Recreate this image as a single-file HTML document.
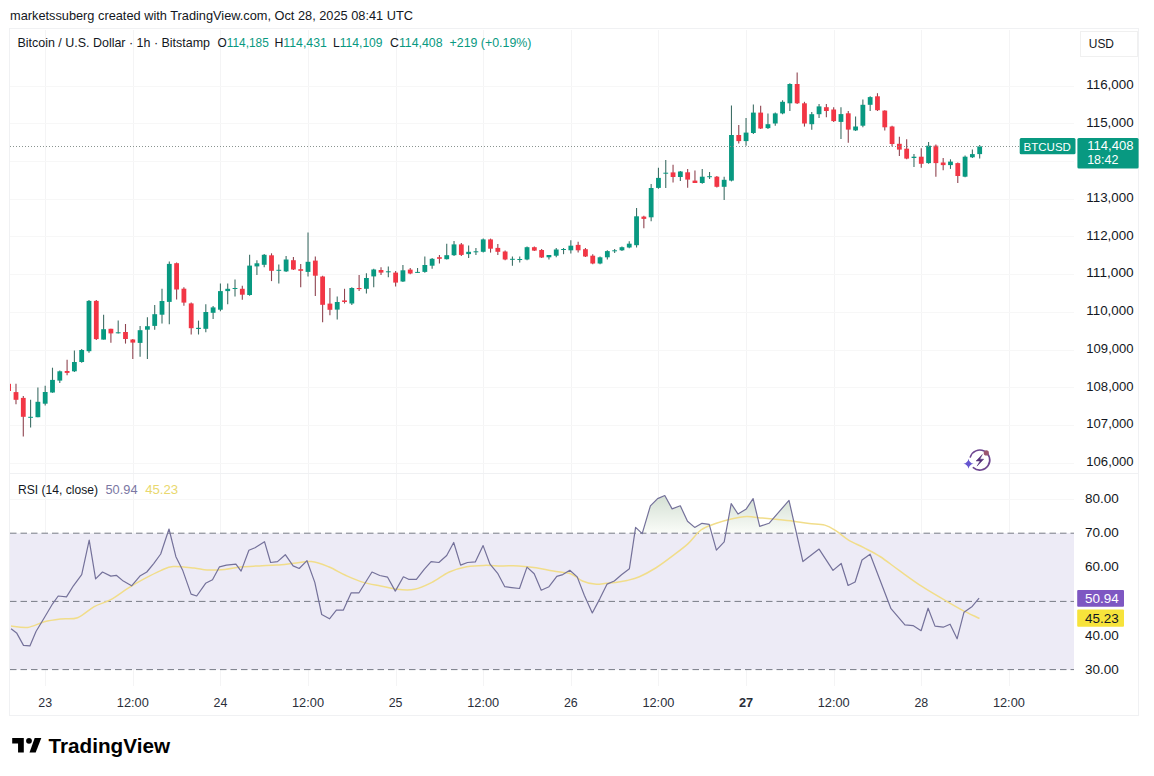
<!DOCTYPE html>
<html><head><meta charset="utf-8"><style>
html,body{margin:0;padding:0;background:#fff;}
body{width:1154px;height:776px;overflow:hidden;}
svg{display:block;font-family:"Liberation Sans",sans-serif;}
</style></head><body>
<svg width="1154" height="776" viewBox="0 0 1154 776">
<rect width="1154" height="776" fill="#ffffff"/>
<line x1="45.5" y1="30" x2="45.5" y2="686" stroke="#f4f4f5" stroke-width="1"/>
<line x1="133.5" y1="30" x2="133.5" y2="686" stroke="#f4f4f5" stroke-width="1"/>
<line x1="220.5" y1="30" x2="220.5" y2="686" stroke="#f4f4f5" stroke-width="1"/>
<line x1="308.5" y1="30" x2="308.5" y2="686" stroke="#f4f4f5" stroke-width="1"/>
<line x1="396.5" y1="30" x2="396.5" y2="686" stroke="#f4f4f5" stroke-width="1"/>
<line x1="483.5" y1="30" x2="483.5" y2="686" stroke="#f4f4f5" stroke-width="1"/>
<line x1="571.5" y1="30" x2="571.5" y2="686" stroke="#f4f4f5" stroke-width="1"/>
<line x1="658.5" y1="30" x2="658.5" y2="686" stroke="#f4f4f5" stroke-width="1"/>
<line x1="746.5" y1="30" x2="746.5" y2="686" stroke="#f4f4f5" stroke-width="1"/>
<line x1="834.5" y1="30" x2="834.5" y2="686" stroke="#f4f4f5" stroke-width="1"/>
<line x1="921.5" y1="30" x2="921.5" y2="686" stroke="#f4f4f5" stroke-width="1"/>
<line x1="1009.5" y1="30" x2="1009.5" y2="686" stroke="#f4f4f5" stroke-width="1"/>
<line x1="10" y1="463.5" x2="1074" y2="463.5" stroke="#f7f7f7" stroke-width="1"/>
<line x1="10" y1="425.5" x2="1074" y2="425.5" stroke="#f7f7f7" stroke-width="1"/>
<line x1="10" y1="387.5" x2="1074" y2="387.5" stroke="#f7f7f7" stroke-width="1"/>
<line x1="10" y1="350.5" x2="1074" y2="350.5" stroke="#f7f7f7" stroke-width="1"/>
<line x1="10" y1="312.5" x2="1074" y2="312.5" stroke="#f7f7f7" stroke-width="1"/>
<line x1="10" y1="274.5" x2="1074" y2="274.5" stroke="#f7f7f7" stroke-width="1"/>
<line x1="10" y1="236.5" x2="1074" y2="236.5" stroke="#f7f7f7" stroke-width="1"/>
<line x1="10" y1="199.5" x2="1074" y2="199.5" stroke="#f7f7f7" stroke-width="1"/>
<line x1="10" y1="161.5" x2="1074" y2="161.5" stroke="#f7f7f7" stroke-width="1"/>
<line x1="10" y1="123.5" x2="1074" y2="123.5" stroke="#f7f7f7" stroke-width="1"/>
<line x1="10" y1="86.5" x2="1074" y2="86.5" stroke="#f7f7f7" stroke-width="1"/>
<line x1="10" y1="636.5" x2="1074" y2="636.5" stroke="#f7f7f7" stroke-width="1"/>
<line x1="10" y1="567.5" x2="1074" y2="567.5" stroke="#f7f7f7" stroke-width="1"/>
<line x1="10" y1="499.5" x2="1074" y2="499.5" stroke="#f7f7f7" stroke-width="1"/>
<rect x="9.5" y="28.5" width="1129" height="687" fill="none" stroke="#f0f1f3" stroke-width="1"/>
<line x1="9" y1="473.5" x2="1139" y2="473.5" stroke="#f0f1f3" stroke-width="1"/>
<rect x="10" y="533.2" width="1064" height="136.4" fill="#edebf6"/>
<defs><linearGradient id="ob" x1="0" y1="495" x2="0" y2="534" gradientUnits="userSpaceOnUse"><stop offset="0" stop-color="#d3dfd3"/><stop offset="1" stop-color="#fbfdf9"/></linearGradient><clipPath id="cob"><rect x="0" y="0" width="1154" height="533.2"/></clipPath></defs>
<polygon points="11.1,533.2 11.1,628.7 16.6,632.9 23.5,645.4 29.9,645.9 36.0,631.5 44.3,617.7 52.6,603.8 58.2,596.0 66.5,596.9 73.4,585.8 81.7,574.7 89.2,540.1 95.6,578.9 102.5,572.0 110.8,576.1 116.3,575.3 123.3,581.1 131.6,585.8 139.9,576.1 146.8,572.0 153.7,563.6 160.7,554.0 169.0,529.0 175.9,556.7 182.8,570.6 191.1,594.1 196.7,596.0 205.6,583.3 212.5,579.8 219.5,566.8 226.4,565.1 235.9,564.2 241.1,571.1 248.9,550.3 255.0,547.7 264.5,541.7 270.6,562.5 277.5,561.6 285.3,554.7 293.1,565.9 299.2,568.5 307.0,560.7 314.8,582.4 321.7,614.5 329.5,618.8 336.4,610.1 343.4,610.1 351.2,592.8 359.0,592.8 372.0,572.0 379.8,575.5 387.6,577.2 395.3,591.1 403.4,576.8 408.6,579.3 416.4,579.3 424.2,569.4 431.1,561.6 438.9,562.5 446.7,555.5 453.7,542.5 460.6,565.1 467.5,562.5 475.3,561.9 483.1,545.6 490.0,564.2 497.9,573.7 504.8,586.7 511.7,587.6 519.5,588.5 527.0,567.1 534.2,573.7 541.2,590.2 549.0,586.7 556.8,576.3 562.8,574.6 569.8,570.3 577.2,576.9 584.4,595.5 592.3,613.0 599.9,598.6 607.1,584.1 614.3,581.0 621.5,574.8 629.4,568.7 635.6,527.4 642.2,533.6 650.4,505.8 657.6,498.6 664.8,495.5 672.1,508.9 680.3,505.8 687.5,521.2 694.7,527.4 702.0,523.3 709.2,524.3 716.4,550.1 724.2,541.9 731.2,503.7 738.0,514.0 746.3,508.9 753.1,498.6 759.7,526.4 769.0,523.3 789.0,500.4 802.9,561.6 819.1,549.1 833.0,570.4 841.2,563.5 848.1,585.5 855.1,582.0 862.0,560.0 870.1,554.2 891.0,608.7 904.9,624.9 913.0,625.6 921.1,630.7 928.1,608.2 935.0,626.1 943.2,627.2 950.1,624.2 957.1,638.8 964.0,612.2 972.2,606.4 979.1,598.2 979.1,533.2" fill="url(#ob)" clip-path="url(#cob)"/>
<line x1="10" y1="533.2" x2="1074" y2="533.2" stroke="#787b86" stroke-width="1" stroke-dasharray="6.5 4"/>
<line x1="10" y1="601.4" x2="1074" y2="601.4" stroke="#787b86" stroke-width="1" stroke-dasharray="6.5 4"/>
<line x1="10" y1="669.6" x2="1074" y2="669.6" stroke="#787b86" stroke-width="1" stroke-dasharray="6.5 4"/>
<path d="M11.0,626.0 C13.8,626.2 22.1,628.1 27.7,627.4 C33.2,626.7 38.8,623.2 44.3,621.8 C49.8,620.4 55.5,619.7 61.0,619.0 C66.5,618.3 72.1,619.8 77.6,617.7 C83.1,615.6 88.7,609.6 94.2,606.6 C99.7,603.6 105.3,602.6 110.8,599.6 C116.3,596.6 121.9,592.1 127.4,588.6 C132.9,585.1 138.4,581.9 144.0,578.9 C149.6,575.9 155.8,572.7 160.7,570.6 C165.6,568.5 167.7,566.9 173.3,566.5 C178.9,566.1 188.4,567.4 194.1,568.0 C199.8,568.6 202.2,569.8 207.3,570.0 C212.4,570.2 218.9,569.9 224.7,569.4 C230.5,568.9 236.2,567.4 242.0,566.8 C247.8,566.2 253.5,566.2 259.3,565.9 C265.1,565.6 270.9,565.5 276.7,565.1 C282.5,564.7 288.2,563.9 294.0,563.3 C299.8,562.7 305.5,561.0 311.3,561.6 C317.1,562.2 322.8,564.5 328.6,566.8 C334.4,569.1 340.2,572.9 346.0,575.5 C351.8,578.1 357.5,580.7 363.3,582.4 C369.1,584.1 374.9,584.8 380.6,585.9 C386.3,587.0 391.6,588.7 397.3,589.3 C403.0,589.9 408.9,590.4 414.7,589.3 C420.5,588.1 426.2,585.3 432.0,582.4 C437.8,579.5 443.5,574.6 449.3,572.0 C455.1,569.4 460.9,567.9 466.7,566.8 C472.5,565.7 478.2,565.5 484.0,565.4 C489.8,565.2 495.5,565.8 501.3,565.9 C507.1,566.0 512.8,565.6 518.6,565.9 C524.4,566.2 530.2,566.8 536.0,567.7 C541.8,568.6 547.5,570.1 553.3,571.1 C559.1,572.1 565.8,572.1 570.6,573.7 C575.5,575.4 578.4,579.3 582.4,581.0 C586.4,582.7 590.8,583.7 594.7,584.1 C598.6,584.5 602.6,583.6 606.0,583.3 C609.4,583.0 611.5,583.0 615.0,582.5 C618.5,582.0 622.9,581.5 627.0,580.5 C631.1,579.5 634.6,578.8 639.4,576.7 C644.2,574.6 650.3,571.4 655.7,568.0 C661.1,564.6 666.5,560.5 671.9,556.4 C677.3,552.3 683.3,548.0 688.1,543.6 C692.9,539.2 696.3,533.4 700.9,530.0 C705.5,526.6 710.5,525.4 715.6,523.5 C720.7,521.6 726.0,520.1 731.2,518.9 C736.4,517.7 741.6,516.6 746.8,516.5 C752.0,516.4 757.2,517.6 762.4,518.1 C767.6,518.6 772.8,519.1 778.0,519.6 C783.2,520.1 788.4,520.6 793.6,521.2 C798.8,521.9 804.0,522.9 809.2,523.5 C814.4,524.1 820.4,523.9 824.8,525.1 C829.2,526.3 831.8,528.1 835.7,530.6 C839.6,533.1 843.5,537.0 848.2,539.9 C852.9,542.8 858.5,544.9 863.8,547.7 C869.1,550.5 874.1,552.7 880.0,556.5 C885.9,560.3 892.1,565.4 899.1,570.4 C906.1,575.4 914.6,581.7 922.3,586.7 C930.0,591.7 938.9,596.8 945.5,600.6 C952.1,604.5 956.0,606.8 961.7,609.8 C967.4,612.8 976.5,617.0 979.5,618.5" fill="none" stroke="#f1dd8a" stroke-width="1.5" stroke-linejoin="round"/>
<polyline points="11.1,628.7 16.6,632.9 23.5,645.4 29.9,645.9 36.0,631.5 44.3,617.7 52.6,603.8 58.2,596.0 66.5,596.9 73.4,585.8 81.7,574.7 89.2,540.1 95.6,578.9 102.5,572.0 110.8,576.1 116.3,575.3 123.3,581.1 131.6,585.8 139.9,576.1 146.8,572.0 153.7,563.6 160.7,554.0 169.0,529.0 175.9,556.7 182.8,570.6 191.1,594.1 196.7,596.0 205.6,583.3 212.5,579.8 219.5,566.8 226.4,565.1 235.9,564.2 241.1,571.1 248.9,550.3 255.0,547.7 264.5,541.7 270.6,562.5 277.5,561.6 285.3,554.7 293.1,565.9 299.2,568.5 307.0,560.7 314.8,582.4 321.7,614.5 329.5,618.8 336.4,610.1 343.4,610.1 351.2,592.8 359.0,592.8 372.0,572.0 379.8,575.5 387.6,577.2 395.3,591.1 403.4,576.8 408.6,579.3 416.4,579.3 424.2,569.4 431.1,561.6 438.9,562.5 446.7,555.5 453.7,542.5 460.6,565.1 467.5,562.5 475.3,561.9 483.1,545.6 490.0,564.2 497.9,573.7 504.8,586.7 511.7,587.6 519.5,588.5 527.0,567.1 534.2,573.7 541.2,590.2 549.0,586.7 556.8,576.3 562.8,574.6 569.8,570.3 577.2,576.9 584.4,595.5 592.3,613.0 599.9,598.6 607.1,584.1 614.3,581.0 621.5,574.8 629.4,568.7 635.6,527.4 642.2,533.6 650.4,505.8 657.6,498.6 664.8,495.5 672.1,508.9 680.3,505.8 687.5,521.2 694.7,527.4 702.0,523.3 709.2,524.3 716.4,550.1 724.2,541.9 731.2,503.7 738.0,514.0 746.3,508.9 753.1,498.6 759.7,526.4 769.0,523.3 789.0,500.4 802.9,561.6 819.1,549.1 833.0,570.4 841.2,563.5 848.1,585.5 855.1,582.0 862.0,560.0 870.1,554.2 891.0,608.7 904.9,624.9 913.0,625.6 921.1,630.7 928.1,608.2 935.0,626.1 943.2,627.2 950.1,624.2 957.1,638.8 964.0,612.2 972.2,606.4 979.1,598.2" fill="none" stroke="#74719a" stroke-width="1.2" stroke-linejoin="round"/>
<line x1="10.5" y1="383.8" x2="10.5" y2="391" stroke="#F23645" stroke-width="1"/>
<line x1="15.99" y1="383.8" x2="15.99" y2="404.3" stroke="#8f4450" stroke-width="1.1"/>
<rect x="13.59" y="392.1" width="4.8" height="7.7" fill="#F23645"/>
<line x1="23.29" y1="396.0" x2="23.29" y2="436.5" stroke="#8f4450" stroke-width="1.1"/>
<rect x="20.89" y="397.9" width="4.8" height="18.9" fill="#F23645"/>
<line x1="30.59" y1="399.8" x2="30.59" y2="427.5" stroke="#3f6f66" stroke-width="1.1"/>
<rect x="28.19" y="416.8" width="4.8" height="1.0" fill="#089981"/>
<line x1="37.89" y1="387.6" x2="37.89" y2="417.2" stroke="#3f6f66" stroke-width="1.1"/>
<rect x="35.49" y="401.8" width="4.8" height="15.4" fill="#089981"/>
<line x1="45.19" y1="385.7" x2="45.19" y2="405.6" stroke="#3f6f66" stroke-width="1.1"/>
<rect x="42.79" y="392.0" width="4.8" height="11.7" fill="#089981"/>
<line x1="52.49" y1="367.7" x2="52.49" y2="392.8" stroke="#3f6f66" stroke-width="1.1"/>
<rect x="50.09" y="379.9" width="4.8" height="12.6" fill="#089981"/>
<line x1="59.79" y1="370.6" x2="59.79" y2="383.0" stroke="#3f6f66" stroke-width="1.1"/>
<rect x="57.39" y="371.3" width="4.8" height="9.3" fill="#089981"/>
<line x1="67.09" y1="359.7" x2="67.09" y2="375.2" stroke="#8f4450" stroke-width="1.1"/>
<rect x="64.69" y="371.0" width="4.8" height="1.9" fill="#F23645"/>
<line x1="74.39" y1="350.4" x2="74.39" y2="372.0" stroke="#3f6f66" stroke-width="1.1"/>
<rect x="71.99" y="362.0" width="4.8" height="9.3" fill="#089981"/>
<line x1="81.69" y1="348.9" x2="81.69" y2="362.8" stroke="#3f6f66" stroke-width="1.1"/>
<rect x="79.29" y="350.0" width="4.8" height="12.0" fill="#089981"/>
<line x1="88.99" y1="300.0" x2="88.99" y2="352.8" stroke="#3f6f66" stroke-width="1.1"/>
<rect x="86.59" y="300.9" width="4.8" height="50.3" fill="#089981"/>
<line x1="96.29" y1="300.0" x2="96.29" y2="340.0" stroke="#8f4450" stroke-width="1.1"/>
<rect x="93.89" y="300.9" width="4.8" height="38.2" fill="#F23645"/>
<line x1="103.60" y1="314.8" x2="103.60" y2="339.6" stroke="#3f6f66" stroke-width="1.1"/>
<rect x="101.20" y="329.2" width="4.8" height="10.4" fill="#089981"/>
<line x1="110.90" y1="328.8" x2="110.90" y2="342.7" stroke="#8f4450" stroke-width="1.1"/>
<rect x="108.50" y="328.8" width="4.8" height="4.6" fill="#F23645"/>
<line x1="118.20" y1="320.6" x2="118.20" y2="333.4" stroke="#3f6f66" stroke-width="1.1"/>
<rect x="115.80" y="332.3" width="4.8" height="1.0" fill="#089981"/>
<line x1="125.50" y1="324.0" x2="125.50" y2="343.6" stroke="#8f4450" stroke-width="1.1"/>
<rect x="123.10" y="332.0" width="4.8" height="7.0" fill="#F23645"/>
<line x1="132.80" y1="339.0" x2="132.80" y2="359.1" stroke="#8f4450" stroke-width="1.1"/>
<rect x="130.40" y="339.5" width="4.8" height="3.1" fill="#F23645"/>
<line x1="140.10" y1="325.9" x2="140.10" y2="356.8" stroke="#3f6f66" stroke-width="1.1"/>
<rect x="137.70" y="330.2" width="4.8" height="12.7" fill="#089981"/>
<line x1="147.40" y1="317.3" x2="147.40" y2="359.1" stroke="#3f6f66" stroke-width="1.1"/>
<rect x="145.00" y="326.2" width="4.8" height="3.5" fill="#089981"/>
<line x1="154.70" y1="305.0" x2="154.70" y2="329.7" stroke="#3f6f66" stroke-width="1.1"/>
<rect x="152.30" y="314.2" width="4.8" height="11.7" fill="#089981"/>
<line x1="162.00" y1="288.7" x2="162.00" y2="323.5" stroke="#3f6f66" stroke-width="1.1"/>
<rect x="159.60" y="301.0" width="4.8" height="13.7" fill="#089981"/>
<line x1="169.30" y1="261.6" x2="169.30" y2="324.3" stroke="#3f6f66" stroke-width="1.1"/>
<rect x="166.90" y="263.9" width="4.8" height="38.0" fill="#089981"/>
<line x1="176.60" y1="262.4" x2="176.60" y2="299.5" stroke="#8f4450" stroke-width="1.1"/>
<rect x="174.20" y="263.2" width="4.8" height="26.3" fill="#F23645"/>
<line x1="183.90" y1="287.2" x2="183.90" y2="305.7" stroke="#8f4450" stroke-width="1.1"/>
<rect x="181.50" y="288.7" width="4.8" height="13.9" fill="#F23645"/>
<line x1="191.20" y1="302.6" x2="191.20" y2="334.4" stroke="#8f4450" stroke-width="1.1"/>
<rect x="188.80" y="303.4" width="4.8" height="24.8" fill="#F23645"/>
<line x1="198.50" y1="320.6" x2="198.50" y2="334.5" stroke="#3f6f66" stroke-width="1.1"/>
<rect x="196.10" y="327.8" width="4.8" height="1.2" fill="#089981"/>
<line x1="205.81" y1="304.3" x2="205.81" y2="332.2" stroke="#3f6f66" stroke-width="1.1"/>
<rect x="203.41" y="312.0" width="4.8" height="16.8" fill="#089981"/>
<line x1="213.11" y1="305.9" x2="213.11" y2="319.0" stroke="#3f6f66" stroke-width="1.1"/>
<rect x="210.71" y="307.4" width="4.8" height="5.4" fill="#089981"/>
<line x1="220.41" y1="283.4" x2="220.41" y2="311.3" stroke="#3f6f66" stroke-width="1.1"/>
<rect x="218.01" y="291.1" width="4.8" height="18.6" fill="#089981"/>
<line x1="227.71" y1="283.4" x2="227.71" y2="304.3" stroke="#3f6f66" stroke-width="1.1"/>
<rect x="225.31" y="288.8" width="4.8" height="2.3" fill="#089981"/>
<line x1="235.01" y1="279.5" x2="235.01" y2="296.6" stroke="#3f6f66" stroke-width="1.1"/>
<rect x="232.61" y="288.0" width="4.8" height="1.0" fill="#089981"/>
<line x1="242.31" y1="285.7" x2="242.31" y2="299.7" stroke="#8f4450" stroke-width="1.1"/>
<rect x="239.91" y="288.8" width="4.8" height="5.9" fill="#F23645"/>
<line x1="249.61" y1="254.8" x2="249.61" y2="295.8" stroke="#3f6f66" stroke-width="1.1"/>
<rect x="247.21" y="265.6" width="4.8" height="29.4" fill="#089981"/>
<line x1="256.91" y1="260.2" x2="256.91" y2="274.9" stroke="#3f6f66" stroke-width="1.1"/>
<rect x="254.51" y="263.3" width="4.8" height="3.1" fill="#089981"/>
<line x1="264.21" y1="254.0" x2="264.21" y2="267.2" stroke="#3f6f66" stroke-width="1.1"/>
<rect x="261.81" y="254.8" width="4.8" height="10.0" fill="#089981"/>
<line x1="271.51" y1="253.3" x2="271.51" y2="281.1" stroke="#8f4450" stroke-width="1.1"/>
<rect x="269.11" y="255.3" width="4.8" height="15.5" fill="#F23645"/>
<line x1="278.81" y1="264.6" x2="278.81" y2="283.5" stroke="#3f6f66" stroke-width="1.1"/>
<rect x="276.41" y="269.8" width="4.8" height="1.0" fill="#089981"/>
<line x1="286.11" y1="255.9" x2="286.11" y2="271.9" stroke="#3f6f66" stroke-width="1.1"/>
<rect x="283.71" y="259.5" width="4.8" height="11.9" fill="#089981"/>
<line x1="293.41" y1="257.0" x2="293.41" y2="270.0" stroke="#8f4450" stroke-width="1.1"/>
<rect x="291.01" y="260.2" width="4.8" height="9.3" fill="#F23645"/>
<line x1="300.71" y1="264.1" x2="300.71" y2="287.3" stroke="#8f4450" stroke-width="1.1"/>
<rect x="298.31" y="269.2" width="4.8" height="1.6" fill="#F23645"/>
<line x1="308.02" y1="232.4" x2="308.02" y2="276.5" stroke="#3f6f66" stroke-width="1.1"/>
<rect x="305.62" y="261.8" width="4.8" height="10.1" fill="#089981"/>
<line x1="315.32" y1="256.4" x2="315.32" y2="295.9" stroke="#8f4450" stroke-width="1.1"/>
<rect x="312.92" y="260.6" width="4.8" height="15.1" fill="#F23645"/>
<line x1="322.62" y1="275.7" x2="322.62" y2="322.2" stroke="#8f4450" stroke-width="1.1"/>
<rect x="320.22" y="276.5" width="4.8" height="28.3" fill="#F23645"/>
<line x1="329.92" y1="288.1" x2="329.92" y2="315.2" stroke="#8f4450" stroke-width="1.1"/>
<rect x="327.52" y="303.6" width="4.8" height="6.2" fill="#F23645"/>
<line x1="337.22" y1="296.6" x2="337.22" y2="319.5" stroke="#3f6f66" stroke-width="1.1"/>
<rect x="334.82" y="302.0" width="4.8" height="7.6" fill="#089981"/>
<line x1="344.52" y1="288.8" x2="344.52" y2="303.5" stroke="#8f4450" stroke-width="1.1"/>
<rect x="342.12" y="300.4" width="4.8" height="1.6" fill="#F23645"/>
<line x1="351.82" y1="287.3" x2="351.82" y2="305.0" stroke="#3f6f66" stroke-width="1.1"/>
<rect x="349.42" y="288.0" width="4.8" height="15.5" fill="#089981"/>
<line x1="359.12" y1="274.9" x2="359.12" y2="291.1" stroke="#8f4450" stroke-width="1.1"/>
<rect x="356.72" y="288.0" width="4.8" height="1.1" fill="#F23645"/>
<line x1="366.42" y1="273.3" x2="366.42" y2="293.5" stroke="#3f6f66" stroke-width="1.1"/>
<rect x="364.02" y="278.0" width="4.8" height="10.8" fill="#089981"/>
<line x1="373.72" y1="268.7" x2="373.72" y2="287.3" stroke="#3f6f66" stroke-width="1.1"/>
<rect x="371.32" y="269.5" width="4.8" height="6.9" fill="#089981"/>
<line x1="381.02" y1="267.2" x2="381.02" y2="274.9" stroke="#8f4450" stroke-width="1.1"/>
<rect x="378.62" y="270.0" width="4.8" height="2.6" fill="#F23645"/>
<line x1="388.32" y1="266.4" x2="388.32" y2="277.2" stroke="#3f6f66" stroke-width="1.1"/>
<rect x="385.92" y="271.3" width="4.8" height="1.0" fill="#089981"/>
<line x1="395.62" y1="271.0" x2="395.62" y2="286.5" stroke="#8f4450" stroke-width="1.1"/>
<rect x="393.22" y="272.6" width="4.8" height="10.0" fill="#F23645"/>
<line x1="402.92" y1="265.0" x2="402.92" y2="282.0" stroke="#3f6f66" stroke-width="1.1"/>
<rect x="400.52" y="270.3" width="4.8" height="11.2" fill="#089981"/>
<line x1="410.23" y1="268.0" x2="410.23" y2="274.2" stroke="#8f4450" stroke-width="1.1"/>
<rect x="407.83" y="269.6" width="4.8" height="3.9" fill="#F23645"/>
<line x1="417.53" y1="268.0" x2="417.53" y2="272.7" stroke="#3f6f66" stroke-width="1.1"/>
<rect x="415.13" y="271.9" width="4.8" height="1.0" fill="#089981"/>
<line x1="424.83" y1="256.4" x2="424.83" y2="272.7" stroke="#3f6f66" stroke-width="1.1"/>
<rect x="422.43" y="265.0" width="4.8" height="6.9" fill="#089981"/>
<line x1="432.13" y1="258.0" x2="432.13" y2="268.8" stroke="#3f6f66" stroke-width="1.1"/>
<rect x="429.73" y="258.8" width="4.8" height="6.9" fill="#089981"/>
<line x1="439.43" y1="254.9" x2="439.43" y2="263.4" stroke="#8f4450" stroke-width="1.1"/>
<rect x="437.03" y="257.2" width="4.8" height="1.6" fill="#F23645"/>
<line x1="446.73" y1="243.7" x2="446.73" y2="259.5" stroke="#3f6f66" stroke-width="1.1"/>
<rect x="444.33" y="255.2" width="4.8" height="4.0" fill="#089981"/>
<line x1="454.03" y1="241.0" x2="454.03" y2="256.0" stroke="#3f6f66" stroke-width="1.1"/>
<rect x="451.63" y="244.4" width="4.8" height="10.8" fill="#089981"/>
<line x1="461.33" y1="243.0" x2="461.33" y2="256.0" stroke="#8f4450" stroke-width="1.1"/>
<rect x="458.93" y="244.4" width="4.8" height="10.5" fill="#F23645"/>
<line x1="468.63" y1="245.6" x2="468.63" y2="258.0" stroke="#3f6f66" stroke-width="1.1"/>
<rect x="466.23" y="251.8" width="4.8" height="2.3" fill="#089981"/>
<line x1="475.93" y1="248.0" x2="475.93" y2="254.9" stroke="#3f6f66" stroke-width="1.1"/>
<rect x="473.53" y="251.3" width="4.8" height="1.0" fill="#089981"/>
<line x1="483.23" y1="238.6" x2="483.23" y2="252.6" stroke="#3f6f66" stroke-width="1.1"/>
<rect x="480.83" y="239.4" width="4.8" height="12.4" fill="#089981"/>
<line x1="490.53" y1="238.6" x2="490.53" y2="252.6" stroke="#8f4450" stroke-width="1.1"/>
<rect x="488.13" y="239.4" width="4.8" height="9.3" fill="#F23645"/>
<line x1="497.83" y1="244.0" x2="497.83" y2="254.9" stroke="#8f4450" stroke-width="1.1"/>
<rect x="495.43" y="247.9" width="4.8" height="3.9" fill="#F23645"/>
<line x1="505.13" y1="250.6" x2="505.13" y2="260.3" stroke="#8f4450" stroke-width="1.1"/>
<rect x="502.73" y="251.5" width="4.8" height="8.0" fill="#F23645"/>
<line x1="512.43" y1="256.4" x2="512.43" y2="265.7" stroke="#3f6f66" stroke-width="1.1"/>
<rect x="510.03" y="258.8" width="4.8" height="1.0" fill="#089981"/>
<line x1="519.74" y1="256.4" x2="519.74" y2="262.6" stroke="#3f6f66" stroke-width="1.1"/>
<rect x="517.34" y="259.0" width="4.8" height="1.0" fill="#089981"/>
<line x1="527.04" y1="246.4" x2="527.04" y2="260.3" stroke="#3f6f66" stroke-width="1.1"/>
<rect x="524.64" y="247.2" width="4.8" height="12.3" fill="#089981"/>
<line x1="534.34" y1="246.4" x2="534.34" y2="251.0" stroke="#8f4450" stroke-width="1.1"/>
<rect x="531.94" y="247.2" width="4.8" height="3.4" fill="#F23645"/>
<line x1="541.64" y1="249.0" x2="541.64" y2="258.0" stroke="#8f4450" stroke-width="1.1"/>
<rect x="539.24" y="250.0" width="4.8" height="7.5" fill="#F23645"/>
<line x1="548.94" y1="255.0" x2="548.94" y2="259.6" stroke="#3f6f66" stroke-width="1.1"/>
<rect x="546.54" y="255.0" width="4.8" height="2.3" fill="#089981"/>
<line x1="556.24" y1="248.0" x2="556.24" y2="257.3" stroke="#3f6f66" stroke-width="1.1"/>
<rect x="553.84" y="249.5" width="4.8" height="6.2" fill="#089981"/>
<line x1="563.54" y1="248.0" x2="563.54" y2="254.2" stroke="#3f6f66" stroke-width="1.1"/>
<rect x="561.14" y="249.0" width="4.8" height="1.0" fill="#089981"/>
<line x1="570.84" y1="240.2" x2="570.84" y2="253.4" stroke="#3f6f66" stroke-width="1.1"/>
<rect x="568.44" y="245.7" width="4.8" height="4.6" fill="#089981"/>
<line x1="578.14" y1="241.8" x2="578.14" y2="252.6" stroke="#8f4450" stroke-width="1.1"/>
<rect x="575.74" y="244.9" width="4.8" height="5.4" fill="#F23645"/>
<line x1="585.44" y1="248.0" x2="585.44" y2="257.0" stroke="#8f4450" stroke-width="1.1"/>
<rect x="583.04" y="249.2" width="4.8" height="7.3" fill="#F23645"/>
<line x1="592.74" y1="254.2" x2="592.74" y2="264.2" stroke="#8f4450" stroke-width="1.1"/>
<rect x="590.34" y="255.7" width="4.8" height="7.8" fill="#F23645"/>
<line x1="600.04" y1="256.5" x2="600.04" y2="264.2" stroke="#3f6f66" stroke-width="1.1"/>
<rect x="597.64" y="257.3" width="4.8" height="6.2" fill="#089981"/>
<line x1="607.34" y1="250.3" x2="607.34" y2="259.6" stroke="#3f6f66" stroke-width="1.1"/>
<rect x="604.94" y="251.1" width="4.8" height="6.2" fill="#089981"/>
<line x1="614.64" y1="249.0" x2="614.64" y2="253.0" stroke="#3f6f66" stroke-width="1.1"/>
<rect x="612.24" y="250.3" width="4.8" height="1.0" fill="#089981"/>
<line x1="621.95" y1="246.5" x2="621.95" y2="251.0" stroke="#3f6f66" stroke-width="1.1"/>
<rect x="619.55" y="247.2" width="4.8" height="3.1" fill="#089981"/>
<line x1="629.25" y1="241.3" x2="629.25" y2="248.3" stroke="#3f6f66" stroke-width="1.1"/>
<rect x="626.85" y="243.7" width="4.8" height="3.8" fill="#089981"/>
<line x1="636.55" y1="208.0" x2="636.55" y2="247.5" stroke="#3f6f66" stroke-width="1.1"/>
<rect x="634.15" y="216.3" width="4.8" height="28.9" fill="#089981"/>
<line x1="643.85" y1="215.8" x2="643.85" y2="228.2" stroke="#8f4450" stroke-width="1.1"/>
<rect x="641.45" y="216.6" width="4.8" height="2.3" fill="#F23645"/>
<line x1="651.15" y1="184.0" x2="651.15" y2="221.2" stroke="#3f6f66" stroke-width="1.1"/>
<rect x="648.75" y="188.0" width="4.8" height="29.3" fill="#089981"/>
<line x1="658.45" y1="167.8" x2="658.45" y2="188.7" stroke="#3f6f66" stroke-width="1.1"/>
<rect x="656.05" y="177.9" width="4.8" height="10.0" fill="#089981"/>
<line x1="665.75" y1="160.0" x2="665.75" y2="187.9" stroke="#3f6f66" stroke-width="1.1"/>
<rect x="663.35" y="172.7" width="4.8" height="1.0" fill="#089981"/>
<line x1="673.05" y1="164.7" x2="673.05" y2="182.5" stroke="#8f4450" stroke-width="1.1"/>
<rect x="670.65" y="172.4" width="4.8" height="4.6" fill="#F23645"/>
<line x1="680.35" y1="170.9" x2="680.35" y2="181.0" stroke="#3f6f66" stroke-width="1.1"/>
<rect x="677.95" y="171.5" width="4.8" height="5.5" fill="#089981"/>
<line x1="687.65" y1="169.0" x2="687.65" y2="187.7" stroke="#8f4450" stroke-width="1.1"/>
<rect x="685.25" y="172.3" width="4.8" height="7.3" fill="#F23645"/>
<line x1="694.95" y1="170.6" x2="694.95" y2="183.0" stroke="#8f4450" stroke-width="1.1"/>
<rect x="692.55" y="180.6" width="4.8" height="2.4" fill="#F23645"/>
<line x1="702.25" y1="169.0" x2="702.25" y2="183.7" stroke="#3f6f66" stroke-width="1.1"/>
<rect x="699.85" y="176.7" width="4.8" height="6.3" fill="#089981"/>
<line x1="709.55" y1="172.1" x2="709.55" y2="179.0" stroke="#3f6f66" stroke-width="1.1"/>
<rect x="707.15" y="176.2" width="4.8" height="1.0" fill="#089981"/>
<line x1="716.85" y1="176.0" x2="716.85" y2="187.5" stroke="#8f4450" stroke-width="1.1"/>
<rect x="714.45" y="176.7" width="4.8" height="10.1" fill="#F23645"/>
<line x1="724.16" y1="176.7" x2="724.16" y2="200.0" stroke="#3f6f66" stroke-width="1.1"/>
<rect x="721.76" y="179.8" width="4.8" height="7.0" fill="#089981"/>
<line x1="731.46" y1="105.5" x2="731.46" y2="181.4" stroke="#3f6f66" stroke-width="1.1"/>
<rect x="729.06" y="135.0" width="4.8" height="45.6" fill="#089981"/>
<line x1="738.76" y1="124.9" x2="738.76" y2="143.5" stroke="#8f4450" stroke-width="1.1"/>
<rect x="736.36" y="135.0" width="4.8" height="6.1" fill="#F23645"/>
<line x1="746.06" y1="117.9" x2="746.06" y2="145.8" stroke="#3f6f66" stroke-width="1.1"/>
<rect x="743.66" y="132.6" width="4.8" height="8.5" fill="#089981"/>
<line x1="753.36" y1="104.5" x2="753.36" y2="134.0" stroke="#3f6f66" stroke-width="1.1"/>
<rect x="750.96" y="112.6" width="4.8" height="20.4" fill="#089981"/>
<line x1="760.66" y1="105.7" x2="760.66" y2="129.0" stroke="#8f4450" stroke-width="1.1"/>
<rect x="758.26" y="112.6" width="4.8" height="15.9" fill="#F23645"/>
<line x1="767.96" y1="113.4" x2="767.96" y2="128.9" stroke="#3f6f66" stroke-width="1.1"/>
<rect x="765.56" y="124.2" width="4.8" height="3.9" fill="#089981"/>
<line x1="775.26" y1="112.6" x2="775.26" y2="125.8" stroke="#3f6f66" stroke-width="1.1"/>
<rect x="772.86" y="113.4" width="4.8" height="10.1" fill="#089981"/>
<line x1="782.56" y1="100.2" x2="782.56" y2="114.2" stroke="#3f6f66" stroke-width="1.1"/>
<rect x="780.16" y="101.8" width="4.8" height="11.6" fill="#089981"/>
<line x1="789.86" y1="83.2" x2="789.86" y2="111.1" stroke="#3f6f66" stroke-width="1.1"/>
<rect x="787.46" y="84.0" width="4.8" height="19.3" fill="#089981"/>
<line x1="797.16" y1="72.4" x2="797.16" y2="104.1" stroke="#8f4450" stroke-width="1.1"/>
<rect x="794.76" y="84.0" width="4.8" height="19.3" fill="#F23645"/>
<line x1="804.46" y1="101.8" x2="804.46" y2="126.6" stroke="#8f4450" stroke-width="1.1"/>
<rect x="802.06" y="103.3" width="4.8" height="20.2" fill="#F23645"/>
<line x1="811.76" y1="111.9" x2="811.76" y2="129.7" stroke="#3f6f66" stroke-width="1.1"/>
<rect x="809.36" y="114.2" width="4.8" height="10.0" fill="#089981"/>
<line x1="819.06" y1="104.1" x2="819.06" y2="118.0" stroke="#3f6f66" stroke-width="1.1"/>
<rect x="816.66" y="106.4" width="4.8" height="7.8" fill="#089981"/>
<line x1="826.36" y1="104.0" x2="826.36" y2="117.2" stroke="#8f4450" stroke-width="1.1"/>
<rect x="823.96" y="107.2" width="4.8" height="3.8" fill="#F23645"/>
<line x1="833.67" y1="107.2" x2="833.67" y2="121.9" stroke="#8f4450" stroke-width="1.1"/>
<rect x="831.27" y="109.5" width="4.8" height="11.6" fill="#F23645"/>
<line x1="840.97" y1="107.2" x2="840.97" y2="138.9" stroke="#3f6f66" stroke-width="1.1"/>
<rect x="838.57" y="114.1" width="4.8" height="7.8" fill="#089981"/>
<line x1="848.27" y1="111.0" x2="848.27" y2="142.8" stroke="#8f4450" stroke-width="1.1"/>
<rect x="845.87" y="113.3" width="4.8" height="16.3" fill="#F23645"/>
<line x1="855.57" y1="116.4" x2="855.57" y2="131.1" stroke="#3f6f66" stroke-width="1.1"/>
<rect x="853.17" y="126.5" width="4.8" height="3.9" fill="#089981"/>
<line x1="862.87" y1="99.4" x2="862.87" y2="127.3" stroke="#3f6f66" stroke-width="1.1"/>
<rect x="860.47" y="104.8" width="4.8" height="20.9" fill="#089981"/>
<line x1="870.17" y1="96.3" x2="870.17" y2="111.0" stroke="#3f6f66" stroke-width="1.1"/>
<rect x="867.77" y="97.1" width="4.8" height="7.7" fill="#089981"/>
<line x1="877.47" y1="93.2" x2="877.47" y2="111.0" stroke="#8f4450" stroke-width="1.1"/>
<rect x="875.07" y="96.3" width="4.8" height="13.9" fill="#F23645"/>
<line x1="884.77" y1="110.2" x2="884.77" y2="130.4" stroke="#8f4450" stroke-width="1.1"/>
<rect x="882.37" y="110.6" width="4.8" height="16.7" fill="#F23645"/>
<line x1="892.07" y1="125.7" x2="892.07" y2="146.5" stroke="#8f4450" stroke-width="1.1"/>
<rect x="889.67" y="126.5" width="4.8" height="17.5" fill="#F23645"/>
<line x1="899.37" y1="136.7" x2="899.37" y2="156.0" stroke="#8f4450" stroke-width="1.1"/>
<rect x="896.97" y="143.8" width="4.8" height="5.8" fill="#F23645"/>
<line x1="906.67" y1="139.3" x2="906.67" y2="159.3" stroke="#8f4450" stroke-width="1.1"/>
<rect x="904.27" y="148.7" width="4.8" height="9.9" fill="#F23645"/>
<line x1="913.97" y1="154.1" x2="913.97" y2="167.0" stroke="#3f6f66" stroke-width="1.1"/>
<rect x="911.57" y="156.7" width="4.8" height="1.3" fill="#089981"/>
<line x1="921.27" y1="148.3" x2="921.27" y2="167.7" stroke="#8f4450" stroke-width="1.1"/>
<rect x="918.87" y="156.7" width="4.8" height="7.1" fill="#F23645"/>
<line x1="928.57" y1="141.9" x2="928.57" y2="163.8" stroke="#3f6f66" stroke-width="1.1"/>
<rect x="926.17" y="145.7" width="4.8" height="17.4" fill="#089981"/>
<line x1="935.88" y1="144.5" x2="935.88" y2="176.7" stroke="#8f4450" stroke-width="1.1"/>
<rect x="933.48" y="145.7" width="4.8" height="17.4" fill="#F23645"/>
<line x1="943.18" y1="158.0" x2="943.18" y2="170.2" stroke="#8f4450" stroke-width="1.1"/>
<rect x="940.78" y="162.5" width="4.8" height="2.6" fill="#F23645"/>
<line x1="950.48" y1="159.3" x2="950.48" y2="168.9" stroke="#3f6f66" stroke-width="1.1"/>
<rect x="948.08" y="161.6" width="4.8" height="3.5" fill="#089981"/>
<line x1="957.78" y1="162.5" x2="957.78" y2="183.1" stroke="#8f4450" stroke-width="1.1"/>
<rect x="955.38" y="163.1" width="4.8" height="12.9" fill="#F23645"/>
<line x1="965.08" y1="155.4" x2="965.08" y2="177.3" stroke="#3f6f66" stroke-width="1.1"/>
<rect x="962.68" y="156.7" width="4.8" height="20.0" fill="#089981"/>
<line x1="972.38" y1="149.6" x2="972.38" y2="158.0" stroke="#3f6f66" stroke-width="1.1"/>
<rect x="969.98" y="154.1" width="4.8" height="3.2" fill="#089981"/>
<line x1="979.68" y1="145.1" x2="979.68" y2="158.6" stroke="#3f6f66" stroke-width="1.1"/>
<rect x="977.28" y="146.4" width="4.8" height="7.7" fill="#089981"/>
<line x1="10" y1="146.5" x2="1074" y2="146.5" stroke="#8a9490" stroke-width="1" stroke-dasharray="1 2"/>
<g transform="translate(979.7,460.1)">
<path d="M -9.4 -3.2 A 10 10 0 1 1 -6.4 7.6" fill="none" stroke="#6e4690" stroke-width="1.6" stroke-linecap="round"/>
<circle cx="6.6" cy="-7.2" r="2.6" fill="#9a5570"/>
<path d="M 2.6 -5.6 L -3.6 0.9 L 0.4 0.9 L -2.6 6 L 4 -0.9 L 0.2 -0.9 Z" fill="#55307a" stroke="#55307a" stroke-width="0.5" stroke-linejoin="round"/>
<path d="M -11.2 -1.4 Q -10.4 2.8 -6.2 3.6 Q -10.4 4.4 -11.2 8.6 Q -12 4.4 -16.2 3.6 Q -12 2.8 -11.2 -1.4 Z" fill="#6656d0"/>
</g>
<text x="10" y="19.8" font-size="12.75" fill="#131722" font-weight="400" text-anchor="start"  textLength="403.0" lengthAdjust="spacingAndGlyphs">marketssuberg created with TradingView.com, Oct 28, 2025 08:41 UTC</text>
<text x="17.5" y="46.8" font-size="12.4" fill="#131722" font-weight="400" text-anchor="start"  textLength="192.5" lengthAdjust="spacingAndGlyphs">Bitcoin / U.S. Dollar · 1h · Bitstamp</text>
<text x="217.5" y="46.8" font-size="12.4" fill="#131722" textLength="51.3" lengthAdjust="spacingAndGlyphs">O<tspan fill="#089981">114,185</tspan></text>
<text x="274.5" y="46.8" font-size="12.4" fill="#131722" textLength="52.3" lengthAdjust="spacingAndGlyphs">H<tspan fill="#089981">114,431</tspan></text>
<text x="333" y="46.8" font-size="12.4" fill="#131722" textLength="49.6" lengthAdjust="spacingAndGlyphs">L<tspan fill="#089981">114,109</tspan></text>
<text x="390" y="46.8" font-size="12.4" fill="#131722" textLength="52.6" lengthAdjust="spacingAndGlyphs">C<tspan fill="#089981">114,408</tspan></text>
<text x="449.5" y="46.8" font-size="12.4" fill="#089981" font-weight="400" text-anchor="start"  textLength="82.0" lengthAdjust="spacingAndGlyphs">+219 (+0.19%)</text>
<rect x="1080.5" y="31.5" width="57" height="25" fill="#ffffff" stroke="#f0f0f0"/>
<text x="1088.8" y="48.1" font-size="12.4" fill="#131722" font-weight="400" text-anchor="start"  textLength="25.2" lengthAdjust="spacingAndGlyphs">USD</text>
<text x="1086.3" y="465.90000000000003" font-size="12.4" fill="#131722" font-weight="400" text-anchor="start"  textLength="47.3" lengthAdjust="spacingAndGlyphs">106,000</text>
<text x="1086.3" y="428.2" font-size="12.4" fill="#131722" font-weight="400" text-anchor="start"  textLength="47.3" lengthAdjust="spacingAndGlyphs">107,000</text>
<text x="1086.3" y="390.49999999999994" font-size="12.4" fill="#131722" font-weight="400" text-anchor="start"  textLength="47.3" lengthAdjust="spacingAndGlyphs">108,000</text>
<text x="1086.3" y="352.8" font-size="12.4" fill="#131722" font-weight="400" text-anchor="start"  textLength="47.3" lengthAdjust="spacingAndGlyphs">109,000</text>
<text x="1086.3" y="315.09999999999997" font-size="12.4" fill="#131722" font-weight="400" text-anchor="start"  textLength="47.3" lengthAdjust="spacingAndGlyphs">110,000</text>
<text x="1086.3" y="277.40000000000003" font-size="12.4" fill="#131722" font-weight="400" text-anchor="start"  textLength="47.3" lengthAdjust="spacingAndGlyphs">111,000</text>
<text x="1086.3" y="239.7" font-size="12.4" fill="#131722" font-weight="400" text-anchor="start"  textLength="47.3" lengthAdjust="spacingAndGlyphs">112,000</text>
<text x="1086.3" y="202.0" font-size="12.4" fill="#131722" font-weight="400" text-anchor="start"  textLength="47.3" lengthAdjust="spacingAndGlyphs">113,000</text>
<text x="1086.3" y="126.59999999999998" font-size="12.4" fill="#131722" font-weight="400" text-anchor="start"  textLength="47.3" lengthAdjust="spacingAndGlyphs">115,000</text>
<text x="1086.3" y="88.89999999999999" font-size="12.4" fill="#131722" font-weight="400" text-anchor="start"  textLength="47.3" lengthAdjust="spacingAndGlyphs">116,000</text>
<rect x="1019.7" y="137.9" width="55.8" height="16.4" rx="1.5" fill="#089981"/>
<text x="1023.6" y="150.6" font-size="11.8" fill="#ffffff" font-weight="400" text-anchor="start"  textLength="47.3" lengthAdjust="spacingAndGlyphs">BTCUSD</text>
<rect x="1077.4" y="137.9" width="61.2" height="30.7" rx="1.5" fill="#089981"/>
<text x="1087.2" y="150.2" font-size="12.4" fill="#ffffff" font-weight="400" text-anchor="start"  textLength="46.3" lengthAdjust="spacingAndGlyphs">114,408</text>
<text x="1087.2" y="164.2" font-size="12.4" fill="#ffffff" font-weight="400" text-anchor="start"  textLength="31.2" lengthAdjust="spacingAndGlyphs">18:42</text>
<text x="18" y="494" font-size="12.4" fill="#131722" font-weight="400" text-anchor="start"  textLength="80.0" lengthAdjust="spacingAndGlyphs">RSI (14, close)</text>
<text x="105.5" y="494" font-size="12.4" fill="#7b77a3" font-weight="400" text-anchor="start"  textLength="32.0" lengthAdjust="spacingAndGlyphs">50.94</text>
<text x="145.2" y="494" font-size="12.4" fill="#e9d86e" font-weight="400" text-anchor="start"  textLength="33.0" lengthAdjust="spacingAndGlyphs">45.23</text>
<text x="1085.1" y="502.59999999999997" font-size="12.4" fill="#131722" font-weight="400" text-anchor="start"  textLength="33.7" lengthAdjust="spacingAndGlyphs">80.00</text>
<text x="1085.1" y="536.6999999999999" font-size="12.4" fill="#131722" font-weight="400" text-anchor="start"  textLength="33.7" lengthAdjust="spacingAndGlyphs">70.00</text>
<text x="1085.1" y="570.8" font-size="12.4" fill="#131722" font-weight="400" text-anchor="start"  textLength="33.7" lengthAdjust="spacingAndGlyphs">60.00</text>
<text x="1085.1" y="640.2" font-size="12.4" fill="#131722" font-weight="400" text-anchor="start"  textLength="33.7" lengthAdjust="spacingAndGlyphs">40.00</text>
<text x="1085.1" y="674.3000000000001" font-size="12.4" fill="#131722" font-weight="400" text-anchor="start"  textLength="33.7" lengthAdjust="spacingAndGlyphs">30.00</text>
<rect x="1077.2" y="590" width="46.8" height="16.8" rx="1" fill="#7e57c2"/>
<text x="1085.1" y="602.9" font-size="12.4" fill="#ffffff" font-weight="400" text-anchor="start"  textLength="33.7" lengthAdjust="spacingAndGlyphs">50.94</text>
<rect x="1077.2" y="609.6" width="46.8" height="17.2" rx="1" fill="#f7e33b"/>
<text x="1085.1" y="622.6" font-size="12.4" fill="#131722" font-weight="400" text-anchor="start"  textLength="33.7" lengthAdjust="spacingAndGlyphs">45.23</text>
<text x="38.3" y="707.2" font-size="12.4" fill="#2a2e39" font-weight="400" text-anchor="start"  textLength="13.8" lengthAdjust="spacingAndGlyphs">23</text>
<text x="116.8" y="707.2" font-size="12.4" fill="#2a2e39" font-weight="400" text-anchor="start"  textLength="32.0" lengthAdjust="spacingAndGlyphs">12:00</text>
<text x="213.5" y="707.2" font-size="12.4" fill="#2a2e39" font-weight="400" text-anchor="start"  textLength="13.8" lengthAdjust="spacingAndGlyphs">24</text>
<text x="292.0" y="707.2" font-size="12.4" fill="#2a2e39" font-weight="400" text-anchor="start"  textLength="32.0" lengthAdjust="spacingAndGlyphs">12:00</text>
<text x="388.7" y="707.2" font-size="12.4" fill="#2a2e39" font-weight="400" text-anchor="start"  textLength="13.8" lengthAdjust="spacingAndGlyphs">25</text>
<text x="467.2" y="707.2" font-size="12.4" fill="#2a2e39" font-weight="400" text-anchor="start"  textLength="32.0" lengthAdjust="spacingAndGlyphs">12:00</text>
<text x="563.9" y="707.2" font-size="12.4" fill="#2a2e39" font-weight="400" text-anchor="start"  textLength="13.8" lengthAdjust="spacingAndGlyphs">26</text>
<text x="642.4" y="707.2" font-size="12.4" fill="#2a2e39" font-weight="400" text-anchor="start"  textLength="32.0" lengthAdjust="spacingAndGlyphs">12:00</text>
<text x="739.0" y="707.2" font-size="12.4" fill="#2a2e39" font-weight="700" text-anchor="start"  textLength="14.2" lengthAdjust="spacingAndGlyphs">27</text>
<text x="817.7" y="707.2" font-size="12.4" fill="#2a2e39" font-weight="400" text-anchor="start"  textLength="32.0" lengthAdjust="spacingAndGlyphs">12:00</text>
<text x="914.4" y="707.2" font-size="12.4" fill="#2a2e39" font-weight="400" text-anchor="start"  textLength="13.8" lengthAdjust="spacingAndGlyphs">28</text>
<text x="992.9" y="707.2" font-size="12.4" fill="#2a2e39" font-weight="400" text-anchor="start"  textLength="32.0" lengthAdjust="spacingAndGlyphs">12:00</text>
<path d="M12.2 738.1 H23.8 V752.6 H18.05 V743.6 H12.2 Z" fill="#000"/>
<circle cx="29" cy="740.8" r="2.9" fill="#000"/>
<path d="M34.7 738.1 H41.3 L35.7 752.6 H29.5 Z" fill="#000"/>
<text x="48.5" y="752.6" font-size="20" fill="#000" font-weight="700" text-anchor="start"  textLength="121.5" lengthAdjust="spacingAndGlyphs">TradingView</text>
</svg>
</body></html>
